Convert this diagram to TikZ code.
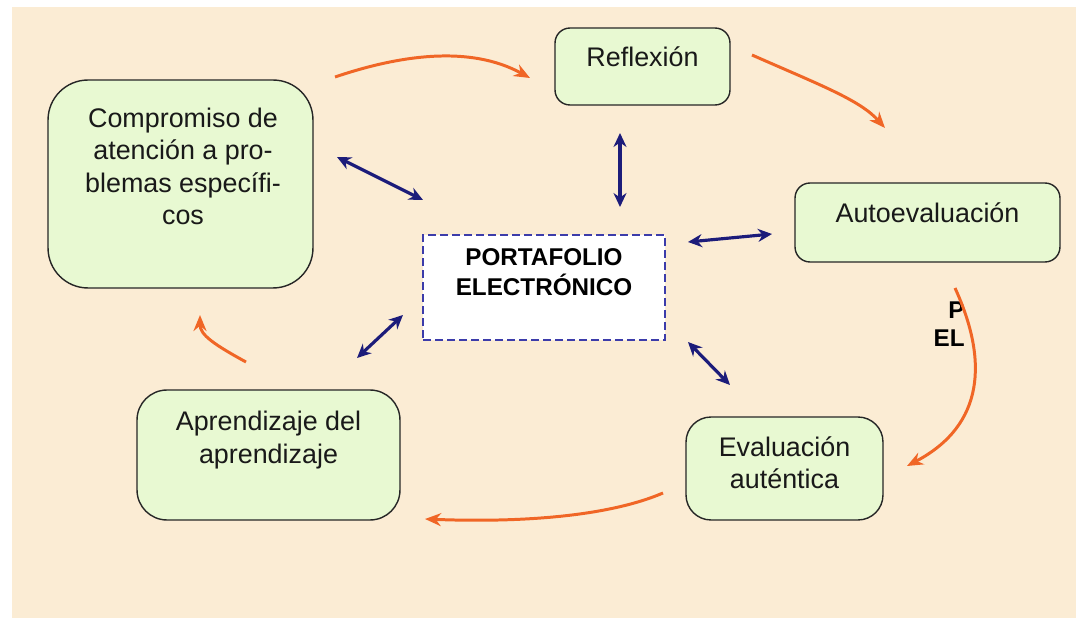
\documentclass[tikz,border=0pt]{standalone}
\usepackage{fontspec}
\setmainfont{Liberation Sans}
\usetikzlibrary{arrows.meta}

\definecolor{paper}{RGB}{251,236,212}
\definecolor{boxgreen}{RGB}{232,249,210}
\definecolor{flow}{RGB}{240,102,38}
\definecolor{navy}{RGB}{28,28,122}
\definecolor{dashblue}{RGB}{60,60,170}

\begin{document}
\begin{tikzpicture}[x=0.02cm, y=-0.02cm,
    stage/.style={draw=black!85, line width=0.8pt, fill=boxgreen, rounded corners=#1},
    stage/.default=0.3cm,
    stagetext/.style={font=\fontsize{15.3}{18.4}\selectfont, align=center, text=black!90},
    orangeflow/.style={draw=flow, line width=1.7pt, -{Stealth[length=0.32cm, width=0.26cm]}},
    twoway/.style={draw=navy, line width=1.8pt, {Stealth[length=0.28cm, width=0.26cm]}-{Stealth[length=0.28cm, width=0.26cm]}}]

		\useasboundingbox (0,0) rectangle (1076,618);
		\fill[white] (0,0) rectangle (1076,618);
		\fill[paper] (12,7) rectangle (1076,618);

		\node[stage, minimum width=3.5cm, minimum height=1.54cm,
			label={[stagetext, yshift=0.19cm]center:{Reflexión}}] (refl) at (642.5,66.5) {};

		\node[stage=0.8cm, minimum width=5.3cm, minimum height=4.16cm,
			label={[stagetext, yshift=0.35cm, xshift=0.05cm]center:{Compromiso de\\atención a pro-\\blemas específi-\\cos}}] (comp) at (180.5,184) {};

		\node[stage, minimum width=5.3cm, minimum height=1.58cm,
			label={[stagetext, yshift=0.19cm]center:{Autoevaluación}}] (auto) at (927.5,222.5) {};

		\node[draw=dashblue, fill=white, line width=0.7pt, dash pattern=on 0.16cm off 0.08cm,
			minimum width=4.84cm, minimum height=2.1cm,
			label={[font=\fontsize{13.8}{17}\selectfont\bfseries, align=center, yshift=0.31cm]center:{PORTAFOLIO\\ELECTRÓNICO}}] (port) at (544,287.5) {};

		\node[stage=0.6cm, minimum width=5.26cm, minimum height=2.6cm,
			label={[stagetext, yshift=0.3cm]center:{Aprendizaje del\\aprendizaje}}] (apr) at (268.5,455) {};

		\node[stage=0.5cm, minimum width=3.94cm, minimum height=2.06cm,
			label={[stagetext, yshift=0.11cm]center:{Evaluación\\auténtica}}] (eval) at (784.5,468.5) {};

		\node[font=\fontsize{13.8}{16}\selectfont\bfseries, align=right, anchor=east, inner sep=0pt] (cut) at (965,324) {P\\EL};

		% free ends of the arrows
		\coordinate (o1a) at (335,77);   \coordinate (o1b) at (530,78);
		\coordinate (o2a) at (752,55);   \coordinate (o2b) at (885,128);
		\coordinate (o3a) at (955,288);  \coordinate (o3b) at (907,466);
		\coordinate (o4a) at (663,493);  \coordinate (o4b) at (425,519);
		\coordinate (o5a) at (246,362);  \coordinate (o5b) at (200,315);

		\coordinate (b1a) at (337,157);  \coordinate (b1b) at (423,200);
		\coordinate (b2a) at (620,133);  \coordinate (b2b) at (620,207);
		\coordinate (b3a) at (688,242);  \coordinate (b3b) at (772,234);
		\coordinate (b4a) at (357,358);  \coordinate (b4b) at (403,315);
		\coordinate (b5a) at (688,342);  \coordinate (b5b) at (730,385);

		\draw[orangeflow] (o1a) .. controls (400,55) and (470,45) .. (o1b);
		\draw[orangeflow] (o2a) .. controls (820,85) and (860,100) .. (o2b);
		\draw[orangeflow] (o3a) .. controls (988,360) and (985,425) .. (o3b);
		\draw[orangeflow] (o4a) .. controls (600,520) and (500,522) .. (o4b);
		\draw[orangeflow] (o5a) .. controls (215,345) and (200,335) .. (o5b);

		\draw[twoway] (b1a) -- (b1b);
		\draw[twoway] (b2a) -- (b2b);
		\draw[twoway] (b3a) -- (b3b);
		\draw[twoway] (b4a) -- (b4b);
		\draw[twoway] (b5a) -- (b5b);

	\end{tikzpicture}
\end{document}
